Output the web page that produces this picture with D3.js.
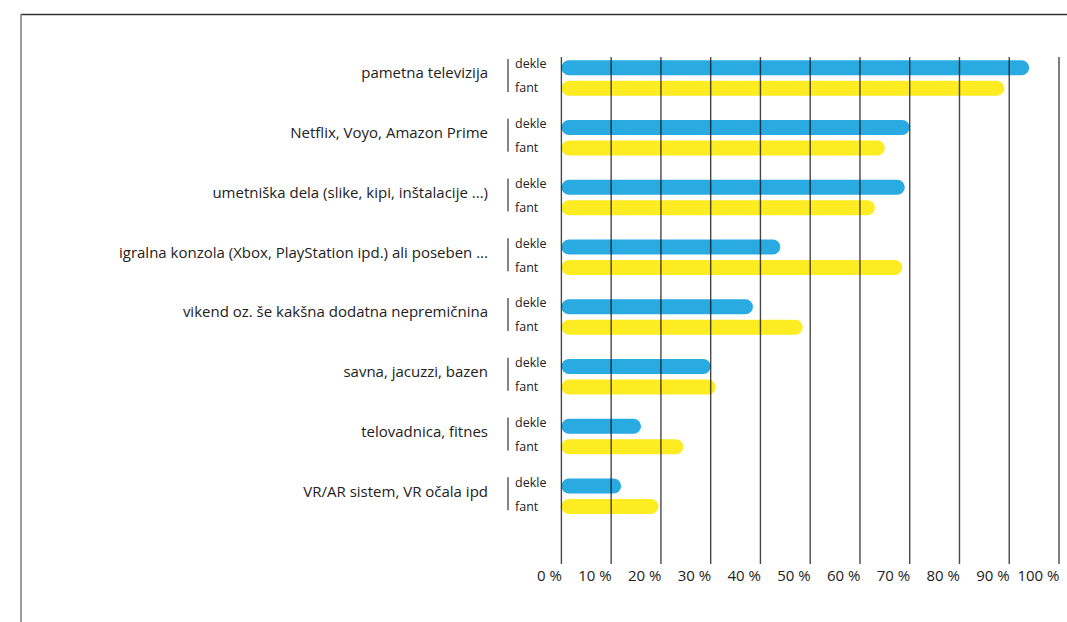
<!DOCTYPE html>
<html>
<head>
<meta charset="utf-8">
<script src="https://cdn.jsdelivr.net/npm/d3@7"></script>
<style>
  html, body { margin: 0; padding: 0; background: #fff; }
  svg { display: block; font-family: "Open Sans", sans-serif; }
</style>
</head>
<body>
<svg id="chart" width="1067" height="622"></svg>
<script>
const categories = [
  "pametna televizija",
  "Netflix, Voyo, Amazon Prime",
  "umetniška dela (slike, kipi, inštalacije ...)",
  "igralna konzola (Xbox, PlayStation ipd.) ali poseben ...",
  "vikend oz. še kakšna dodatna nepremičnina",
  "savna, jacuzzi, bazen",
  "telovadnica, fitnes",
  "VR/AR sistem, VR očala ipd"
];
const seriesNames = ["dekle", "fant"];
const dekle = [94, 70, 69, 44, 38.5, 30, 16, 12];
const fant = [89, 65, 63, 68.5, 48.5, 31, 24.5, 19.5];
const tickValues = [0, 10, 20, 30, 40, 50, 60, 70, 80, 90, 100];
const tickLabels = ["0 %", "10 %", "20 %", "30 %", "40 %", "50 %", "60 %", "70 %", "80 %", "90 %", "100 %"];
const colors = { dekle: "#29abe2", fant: "#fcec21" };

const svg = d3.select("#chart");

// frame
svg.append("line").attr("x1", 21).attr("x2", 1067).attr("y1", 14.5).attr("y2", 14.5)
  .attr("stroke", "#333").attr("stroke-width", 1.5);
svg.append("line").attr("x1", 21).attr("x2", 21).attr("y1", 14).attr("y2", 622)
  .attr("stroke", "#7a7a7a").attr("stroke-width", 1.5);

const x = d3.scaleLinear().domain([0, 100]).range([561.4, 1059]);
const y0 = d3.scaleBand().domain(categories).range([48, 526]).padding(0);
const y1 = d3.scaleBand().domain(seriesNames).range([9.5, 50.5]).padding(0);
const barH = 15;
const labelShift = { dekle: 0.5, fant: 4 };

const rows = categories.map((c, i) => ({ cat: c, vals: [
  { s: "dekle", v: dekle[i] }, { s: "fant", v: fant[i] }
]}));

const g = svg.append("g");
const groups = g.selectAll("g.grp").data(rows).join("g")
  .attr("class", "grp")
  .attr("transform", d => `translate(0,${y0(d.cat)})`);

// bars
groups.selectAll("rect").data(d => d.vals).join("rect")
  .attr("x", x(0))
  .attr("y", d => y1(d.s) + y1.bandwidth() / 2 - barH / 2)
  .attr("width", d => x(d.v) - x(0))
  .attr("height", barH)
  .attr("rx", barH / 2)
  .attr("fill", d => colors[d.s]);

// series labels
groups.selectAll("text.ser").data(d => d.vals).join("text")
  .attr("class", "ser")
  .attr("x", 515)
  .attr("y", d => y1(d.s) + y1.bandwidth() / 2 + labelShift[d.s])
  .attr("font-size", 12.5)
  .attr("fill", "#222")
  .text(d => d.s);

// bracket
groups.append("line")
  .attr("x1", 508).attr("x2", 508)
  .attr("y1", y1("dekle") + 1.5).attr("y2", y1("fant") + y1.bandwidth() - 6.5)
  .attr("stroke", "#333").attr("stroke-width", 1.2);

// category labels
groups.append("text")
  .attr("x", 488)
  .attr("y", y0.bandwidth() / 2 + 0.5)
  .attr("text-anchor", "end")
  .attr("font-size", 15)
  .attr("fill", "#222")
  .text(d => d.cat);

// gridlines (on top of bars)
svg.append("g").selectAll("line").data(tickValues).join("line")
  .attr("x1", d => x(d)).attr("x2", d => x(d))
  .attr("y1", 57).attr("y2", 564)
  .attr("stroke", "#000").attr("stroke-opacity", 0.72).attr("stroke-width", 1.4);

// x axis labels
const axis = d3.axisBottom(x).tickValues(tickValues)
  .tickFormat((d, i) => tickLabels[i]).tickSize(0).tickPadding(0);
const ax = svg.append("g").attr("transform", "translate(0,570)").call(axis);
ax.select(".domain").remove();
ax.selectAll("text")
  .attr("text-anchor", "end")
  .attr("dy", "0")
  .attr("y", 11)
  .attr("font-size", 15)
  .attr("font-family", "Open Sans, sans-serif")
  .attr("fill", "#222");
</script>
</body>
</html>
